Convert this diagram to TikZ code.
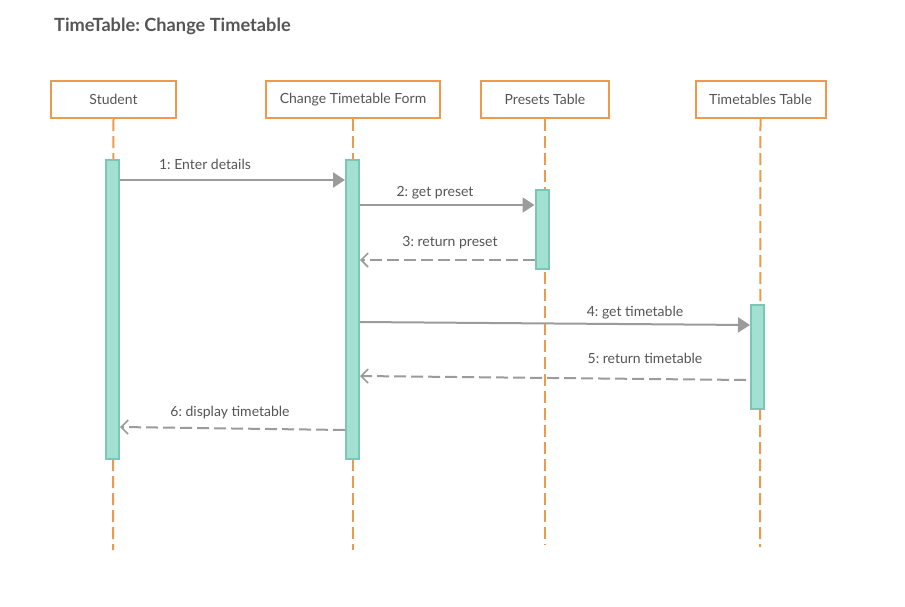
\documentclass[tikz,border=0pt]{standalone}
\usepackage{fontspec}
\setmainfont{Lato}
\frenchspacing
\usetikzlibrary{arrows.meta}
\definecolor{orng}{HTML}{EE9A4C}
\definecolor{tealf}{HTML}{A2E0D2}
\definecolor{teald}{HTML}{7CC6B5}
\definecolor{arrg}{HTML}{9B9B9B}
\definecolor{txtg}{HTML}{555555}
\begin{document}
\begin{tikzpicture}[x=1pt,y=-1pt,
  actor/.style={draw=orng,line width=2pt,fill=white,minimum height=37pt,inner sep=0pt,font=\fontsize{14}{16}\selectfont,text=txtg},
  life/.style={draw=orng,line width=2pt,dash pattern=on 12pt off 5pt},
  bar/.style={draw=teald,fill=tealf,line width=2pt,minimum width=13pt,inner sep=0pt},
  msg/.style={draw=arrg,line width=2pt,-{Triangle[length=12pt,width=15pt]}},
  ret/.style={draw=arrg,line width=2pt,dash pattern=on 12pt off 5pt,-{Straight Barb[length=7pt,width=14pt,line width=1.6pt]}},
  lbl/.style={font=\fontsize{14}{16}\selectfont,text=txtg,inner sep=0pt}]
\useasboundingbox (0,0) rectangle (905,606);
\node[anchor=west,font=\bfseries\fontsize{18.2}{22}\selectfont,text=txtg,inner sep=0pt] (title) at (54,26.5) {TimeTable: Change Timetable};
% actors
\node[actor,minimum width=125pt] (st) at (113.5,99.5) {Student};
\node[actor,minimum width=174pt] (fm) at (353,99.5) {Change Timetable Form};
\node[actor,minimum width=128pt] (pt) at (545,99.5) {Presets Table};
\node[actor,minimum width=130pt] (tt) at (760.5,99.5) {Timetables Table};
% lifeline ends
\coordinate (stE) at (113,550);
\coordinate (fmE) at (353,550);
\coordinate (ptE) at (545,545);
\coordinate (ttE) at (760,547);
\draw[life] (st.south) -- (stE);
\draw[life] (fm.south) -- (fmE);
\draw[life] (pt.south) -- (ptE);
\draw[life] (tt.south) -- (ttE);
% activation bars
\node[bar,minimum height=299pt] (sb) at (112.5,309.5) {};
\node[bar,minimum height=299pt] (fb) at (352.5,309.5) {};
\node[bar,minimum height=79pt] (pb) at (542,229.5) {};
\node[bar,minimum height=104pt] (tb) at (757.5,357) {};
% messages
\draw[msg] (sb.east |- 0,180) -- (fb.west |- 0,180);
\node[lbl] (l1) at (205,164) {1: Enter details};
\draw[msg] (fb.east |- 0,205) -- (pb.west |- 0,205);
\node[lbl] (l2) at (435,193) {2: get preset};
\draw[ret] (pb.west |- 0,260) -- (fb.east |- 0,260);
\node[lbl] (l3) at (450,243) {3: return preset};
\draw[msg] (fb.east |- 0,322) -- (tb.west |- 0,325);
\node[lbl] (l4) at (635,313) {4: get timetable};
\draw[ret] ([xshift=-4pt]tb.west |- 0,380) -- (fb.east |- 0,376);
\node[lbl] (l5) at (645,358) {5: return timetable};
\draw[ret] (fb.west |- 0,430) -- (sb.east |- 0,427);
\node[lbl] (l6) at (230,413) {6: display timetable};
\end{tikzpicture}
\end{document}
